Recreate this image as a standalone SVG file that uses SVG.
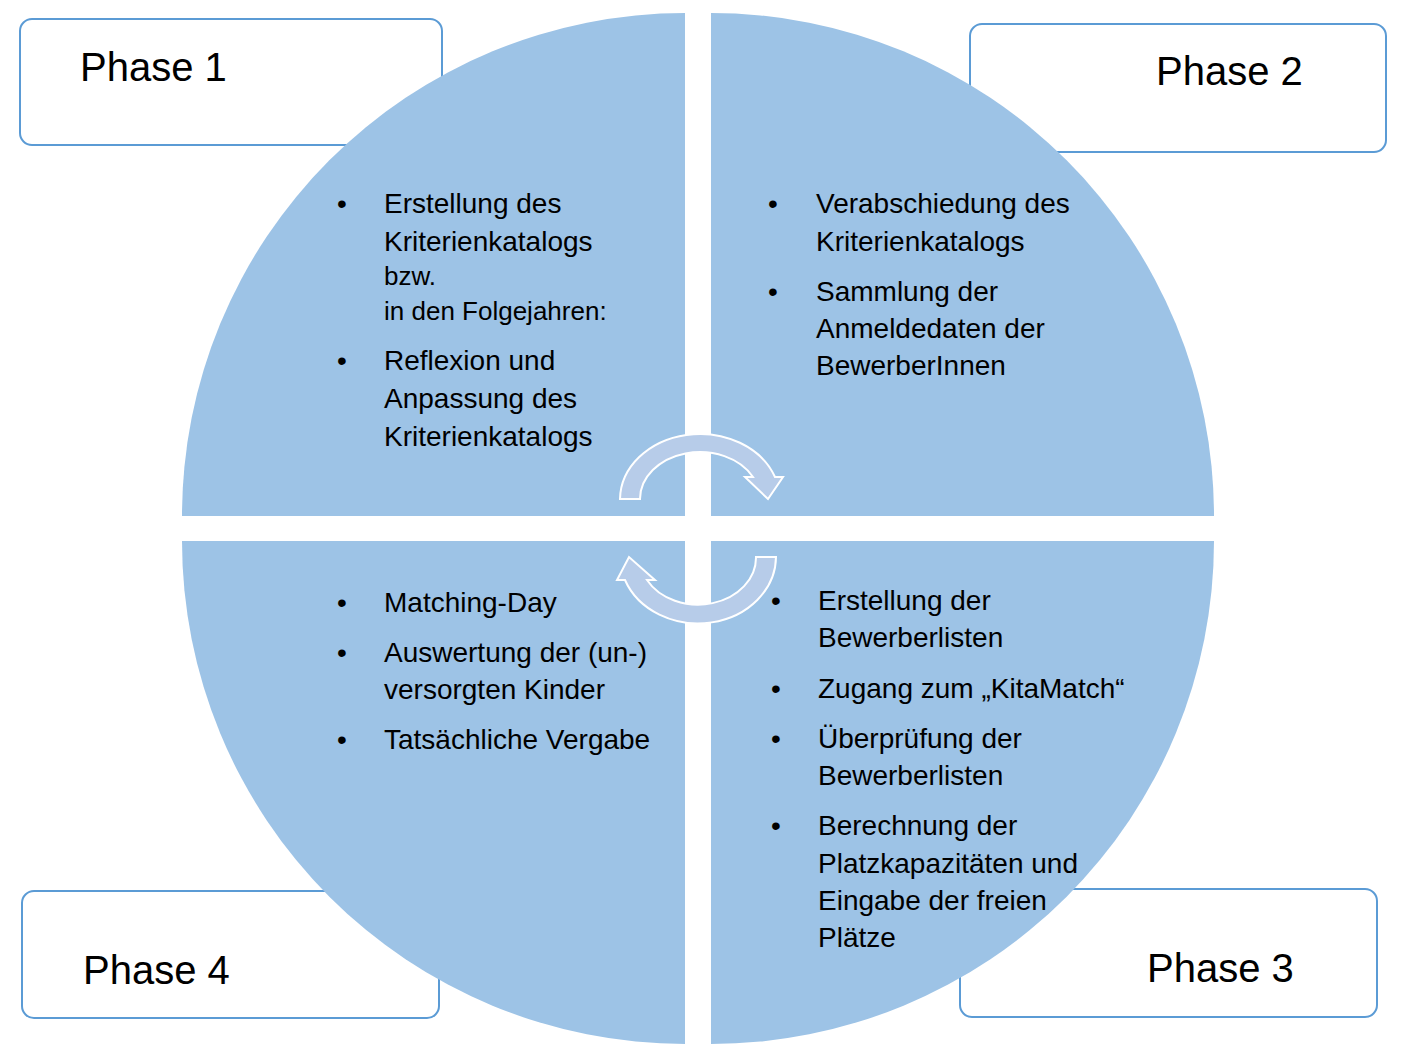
<svg xmlns="http://www.w3.org/2000/svg" width="1412" height="1057" viewBox="0 0 1412 1057">
  <style>
    .box { fill: #ffffff; stroke: #5b9bd5; stroke-width: 2; }
    .phase { font-family: "Liberation Sans", Arial, sans-serif; font-size: 40px; fill: #000000; }
    .quad { fill: #9dc3e6; }
    .body { font-family: "Liberation Sans", Arial, sans-serif; font-size: 28px; fill: #000000; }
    .small { font-size: 26px; }
    .cycle { fill: #b7cce9; stroke: #ffffff; stroke-width: 2; stroke-linejoin: miter; }
  </style>

  <!-- phase label boxes (sit behind the circle) -->
  <g id="phase1">
    <rect class="box" x="20" y="19" width="422" height="126" rx="12"/>
    <text class="phase" x="80" y="81">Phase 1</text>
  </g>
  <g id="phase2">
    <rect class="box" x="970" y="24" width="416" height="128" rx="12"/>
    <text class="phase" x="1156" y="85">Phase 2</text>
  </g>
  <g id="phase4">
    <rect class="box" x="22" y="891" width="417" height="127" rx="12"/>
    <text class="phase" x="83" y="984">Phase 4</text>
  </g>
  <g id="phase3">
    <rect class="box" x="960" y="889" width="417" height="128" rx="12"/>
    <text class="phase" x="1147" y="982">Phase 3</text>
  </g>

  <!-- quarter circle: phase 1 -->
  <g id="quadrant1">
    <path class="quad" d="M685,516 L182,516 A503,503 0 0 1 685,13 Z"/>
    <text class="body" x="337" y="213">•</text>
    <text class="body" x="384" y="213">Erstellung des</text>
    <text class="body" x="384" y="251">Kriterienkatalogs</text>
    <text class="body small" x="384" y="285">bzw.</text>
    <text class="body small" x="384" y="320">in den Folgejahren:</text>
    <text class="body" x="337" y="370">•</text>
    <text class="body" x="384" y="370">Reflexion und</text>
    <text class="body" x="384" y="408">Anpassung des</text>
    <text class="body" x="384" y="446">Kriterienkatalogs</text>
  </g>

  <!-- quarter circle: phase 2 -->
  <g id="quadrant2">
    <path class="quad" d="M711,516 L711,13 A503,503 0 0 1 1214,516 Z"/>
    <text class="body" x="768" y="213">•</text>
    <text class="body" x="816" y="213">Verabschiedung des</text>
    <text class="body" x="816" y="251">Kriterienkatalogs</text>
    <text class="body" x="768" y="301">•</text>
    <text class="body" x="816" y="301">Sammlung der</text>
    <text class="body" x="816" y="338">Anmeldedaten der</text>
    <text class="body" x="816" y="375">BewerberInnen</text>
  </g>

  <!-- quarter circle: phase 4 -->
  <g id="quadrant4">
    <path class="quad" d="M685,541 L685,1044 A503,503 0 0 1 182,541 Z"/>
    <text class="body" x="337" y="612">•</text>
    <text class="body" x="384" y="612">Matching-Day</text>
    <text class="body" x="337" y="662">•</text>
    <text class="body" x="384" y="662">Auswertung der (un-)</text>
    <text class="body" x="384" y="699">versorgten Kinder</text>
    <text class="body" x="337" y="749">•</text>
    <text class="body" x="384" y="749">Tatsächliche Vergabe</text>
  </g>

  <!-- quarter circle: phase 3 -->
  <g id="quadrant3">
    <path class="quad" d="M711,541 L1214,541 A503,503 0 0 1 711,1044 Z"/>
    <text class="body" x="771" y="610">•</text>
    <text class="body" x="818" y="610">Erstellung der</text>
    <text class="body" x="818" y="647">Bewerberlisten</text>
    <text class="body" x="771" y="698">•</text>
    <text class="body" x="818" y="698">Zugang zum „KitaMatch“</text>
    <text class="body" x="771" y="748">•</text>
    <text class="body" x="818" y="748">Überprüfung der</text>
    <text class="body" x="818" y="785">Bewerberlisten</text>
    <text class="body" x="771" y="835">•</text>
    <text class="body" x="818" y="835">Berechnung der</text>
    <text class="body" x="818" y="873">Platzkapazitäten und</text>
    <text class="body" x="818" y="910">Eingabe der freien</text>
    <text class="body" x="818" y="947">Plätze</text>
  </g>

  <!-- circular arrows in the centre (concentric elliptical bands) -->
  <g id="connectors">
    <path class="cycle" d="M620,499 A80,66 0 0 1 775,477 L783,477 L768,499 L745,477 L753,477 A60,47 0 0 0 640,499 Z"/>
    <path class="cycle" d="M776,557 A78,67 0 0 1 625,580 L617,580 L629,557 L655,580 L647,580 A58,47 0 0 0 756,557 Z"/>
  </g>
</svg>
